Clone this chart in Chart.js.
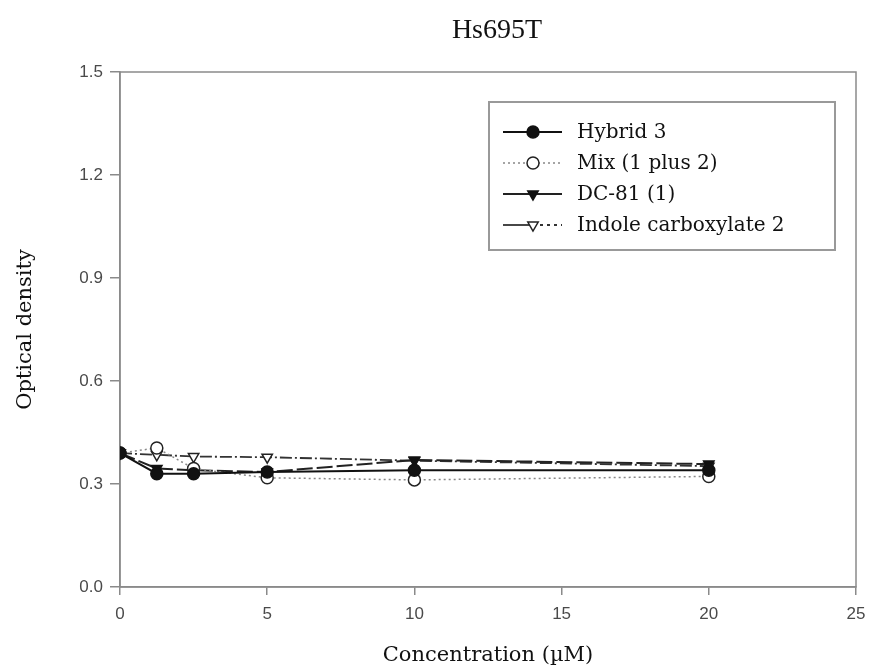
<!DOCTYPE html>
<html>
<head>
<meta charset="utf-8">
<script src="https://cdn.jsdelivr.net/npm/chart.js@4"></script>
<style>
html,body{margin:0;padding:0;background:#fff;}
#wrap{width:876px;height:669px;position:relative;}
</style>
</head>
<body>
<div id="wrap"><canvas id="c" width="876" height="669"></canvas></div>
<script>
const chartTitle = "Hs695T";
const xAxisTitle = "Concentration (\u00B5M)";
const yAxisTitle = "Optical density";
const concentrations = [0, 1.25, 2.5, 5, 10, 20];
const hybrid3 = [0.39, 0.33, 0.33, 0.335, 0.34, 0.34];
const mix12 = [0.39, 0.405, 0.345, 0.318, 0.312, 0.322];
const dc81 = [0.39, 0.345, 0.34, 0.335, 0.37, 0.358];
const indole2 = [0.39, 0.385, 0.38, 0.378, 0.368, 0.352];
const seriesLabels = ["Hybrid 3", "Mix (1 plus 2)", "DC-81 (1)", "Indole carboxylate 2"];
const xTicks = [0, 5, 10, 15, 20, 25];
const yTicks = [0.0, 0.3, 0.6, 0.9, 1.2, 1.5];

function pts(vals){ return concentrations.map((x,i)=>({x:x,y:vals[i]})); }

const frameColor = '#8a8a8a';

const framePlugin = {
  id:'frame',
  beforeDatasetsDraw(chart){
    const {ctx, chartArea:a} = chart;
    ctx.save();
    ctx.strokeStyle = frameColor;
    ctx.lineWidth = 1.5;
    ctx.strokeRect(a.left, a.top, a.right-a.left, a.bottom-a.top);
    ctx.restore();
  }
};

const titlePlugin = {
  id:'customTitle',
  afterDraw(chart){
    const ctx = chart.ctx;
    ctx.save();
    ctx.fillStyle = '#111';
    ctx.font = '28px "Liberation Serif", serif';
    ctx.textAlign = 'center';
    ctx.textBaseline = 'middle';
    ctx.fillText(chartTitle, 497, 31);
    ctx.restore();
  }
};

const legendPlugin = {
  id:'boxLegend',
  afterDraw(chart){
    const ctx = chart.ctx;
    const x0 = 489, y0 = 102, x1 = 835, y1 = 250;
    ctx.save();
    ctx.fillStyle = '#fff';
    ctx.fillRect(x0, y0, x1-x0, y1-y0);
    ctx.strokeStyle = '#999';
    ctx.lineWidth = 2;
    ctx.strokeRect(x0, y0, x1-x0, y1-y0);
    const rows = [132, 163, 194, 225];
    chart.data.datasets.forEach((ds, i) => {
      const y = rows[i];
      const segs = [[503, 533, ds.legendLeftDash], [533, 562, ds.legendRightDash]];
      segs.forEach(s => {
        ctx.save();
        ctx.strokeStyle = ds.borderColor;
        ctx.lineWidth = ds.borderWidth;
        ctx.setLineDash(s[2] || []);
        ctx.beginPath();
        ctx.moveTo(s[0], y);
        ctx.lineTo(s[1], y);
        ctx.stroke();
        ctx.restore();
      });
      ctx.save();
      ctx.fillStyle = ds.pointBackgroundColor;
      ctx.strokeStyle = ds.pointBorderColor;
      ctx.lineWidth = ds.pointBorderWidth;
      Chart.helpers.drawPoint(ctx, {
        pointStyle: ds.pointStyle,
        rotation: ds.pointRotation || 0,
        radius: ds.pointRadius,
        borderWidth: ds.pointBorderWidth
      }, 533, y);
      ctx.restore();
      ctx.fillStyle = '#111';
      ctx.font = '20px "DejaVu Serif", serif';
      ctx.textAlign = 'left';
      ctx.textBaseline = 'middle';
      ctx.fillText(ds.label, 577, y + 1);
    });
    ctx.restore();
  }
};

const datasets = [
  {
    label: seriesLabels[0], data: pts(hybrid3),
    borderColor:'#111', borderWidth:2, borderDash:[], legendLeftDash:[], legendRightDash:[],
    pointStyle:'circle', pointRadius:6, pointBackgroundColor:'#111', pointBorderColor:'#111', pointBorderWidth:1.5
  },
  {
    label: seriesLabels[1], data: pts(mix12),
    borderColor:'#888', borderWidth:1.5, borderDash:[2,3], legendLeftDash:[2,3], legendRightDash:[2,3],
    pointStyle:'circle', pointRadius:6, pointBackgroundColor:'#fff', pointBorderColor:'#222', pointBorderWidth:1.5
  },
  {
    label: seriesLabels[2], data: pts(dc81),
    borderColor:'#222', borderWidth:2, borderDash:[16,4], legendLeftDash:[], legendRightDash:[],
    pointStyle:'triangle', pointRotation:180, pointRadius:6, pointBackgroundColor:'#111', pointBorderColor:'#111', pointBorderWidth:1.5
  },
  {
    label: seriesLabels[3], data: pts(indole2),
    borderColor:'#333', borderWidth:1.8, borderDash:[12,3,2,3], legendLeftDash:[], legendRightDash:[3,4],
    pointStyle:'triangle', pointRotation:180, pointRadius:6, pointBackgroundColor:'#fff', pointBorderColor:'#222', pointBorderWidth:1.5
  }
];

new Chart(document.getElementById('c'), {
  type:'line',
  data:{ datasets: datasets },
  options:{
    responsive:false,
    animation:false,
    layout:{ padding:{ top:72, right:20, left:0, bottom:0 } },
    plugins:{ legend:{display:false}, title:{display:false}, tooltip:{enabled:false} },
    elements:{ line:{ tension:0 } },
    scales:{
      x:{
        type:'linear', min:0, max:25,
        afterBuildTicks(scale){ scale.ticks = xTicks.map(v=>({value:v})); },
        afterFit(scale){ scale.height = 82; },
        border:{ display:true, color:frameColor, width:1.5 },
        grid:{ display:true, drawOnChartArea:false, drawTicks:true, tickLength:8, color:frameColor, lineWidth:1.5 },
        ticks:{ padding:9, color:'#4a4a4a', font:{ family:'"Liberation Sans", Arial, sans-serif', size:17 }, maxRotation:0,
          callback:(v)=>String(v) },
        title:{ display:true, text:xAxisTitle, color:'#111', font:{ family:'"DejaVu Serif", serif', size:21 }, padding:{ top:0, bottom:1 } }
      },
      y:{
        type:'linear', min:0, max:1.5,
        afterBuildTicks(scale){ scale.ticks = yTicks.map(v=>({value:v})); },
        afterFit(scale){ scale.width = 120; },
        border:{ display:true, color:frameColor, width:1.5 },
        grid:{ display:true, drawOnChartArea:false, drawTicks:true, tickLength:10, color:frameColor, lineWidth:1.5 },
        ticks:{ padding:7, color:'#4a4a4a', font:{ family:'"Liberation Sans", Arial, sans-serif', size:17 },
          callback:(v)=>Number(v).toFixed(1) },
        title:{ display:true, text:yAxisTitle, color:'#111', font:{ family:'"DejaVu Serif", serif', size:21 }, padding:{ top:13, bottom:0 } }
      }
    }
  },
  plugins:[framePlugin, titlePlugin, legendPlugin]
});
</script>
</body>
</html>
